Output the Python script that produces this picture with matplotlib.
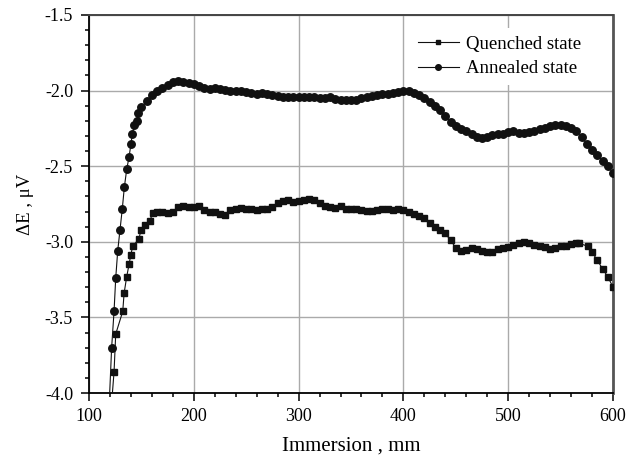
import matplotlib
matplotlib.use("Agg")
import matplotlib.pyplot as plt
from matplotlib.ticker import MultipleLocator

plt.rcParams['font.family'] = ['Liberation Serif', 'DejaVu Serif']

annealed_x = [118.5, 121.6, 123.9, 125.5, 127.4, 129.6, 131.8, 133.7, 136, 138.2, 140.1, 141.3,
              143.2, 145.5, 147,
              150, 155, 160, 165, 170, 175, 180, 185, 190, 195, 200, 205, 210, 215, 220, 225,
              230, 235, 240, 245, 250, 255, 260, 265, 270, 275, 280, 285, 290, 295, 300, 305,
              310, 315, 320, 325, 330, 335, 340, 345, 350, 355, 360, 365, 370, 375, 380, 385,
              390, 395, 400, 405, 410, 415, 420, 425, 430, 435, 440, 445, 450, 455, 460, 465,
              470, 475, 480, 485, 490, 495, 500, 505, 510, 515, 520, 525, 530, 535, 540, 545,
              550, 555, 560, 565, 570, 575, 580, 585, 590, 595, 600]
annealed_y = [-4.2, -3.70, -3.46, -3.24, -3.06, -2.92, -2.78, -2.64, -2.52, -2.44, -2.35, -2.29,
              -2.23, -2.20, -2.15,
              -2.11, -2.07, -2.03, -2.00, -1.98, -1.96, -1.945, -1.935, -1.94, -1.95, -1.955,
              -1.97, -1.985, -1.99, -1.985, -1.99, -1.995, -2.0, -2.005, -2.0, -2.01, -2.015,
              -2.02, -2.015, -2.025, -2.03, -2.035, -2.04, -2.045, -2.045, -2.04, -2.045,
              -2.045, -2.045, -2.05, -2.05, -2.045, -2.055, -2.065, -2.065, -2.06, -2.065,
              -2.05, -2.04, -2.035, -2.03, -2.02, -2.02, -2.015, -2.01, -2.0, -2.005, -2.015,
              -2.03, -2.05, -2.075, -2.1, -2.13, -2.17, -2.21, -2.235, -2.255, -2.27, -2.285,
              -2.305, -2.315, -2.31, -2.295, -2.29, -2.285, -2.275, -2.27, -2.28, -2.28,
              -2.275, -2.265, -2.255, -2.245, -2.235, -2.23, -2.23, -2.235, -2.245, -2.27,
              -2.31, -2.35, -2.39, -2.425, -2.465, -2.5, -2.545]

quenched_x = [119, 123.9, 125.5, 132.2, 133.5, 136, 138.2, 139.8, 141.7, 147.7, 149.6, 153,
              158, 161, 165, 170, 175, 180, 185, 190, 195, 200, 205, 210, 215, 220, 225, 230,
              235, 240, 245, 250, 255, 260, 265, 270, 275, 280, 285, 290, 295, 300, 305, 310,
              315, 320, 325, 330, 335, 340, 345, 350, 355, 360, 365, 370, 375, 380, 385, 390,
              395, 400, 405, 410, 415, 420, 425, 430, 435, 440, 445, 450, 455, 460, 465, 470,
              475, 480, 485, 490, 495, 500, 505, 510, 515, 520, 525, 530, 535, 540, 545, 550,
              555, 560, 565, 568, 576, 580, 585, 590, 595, 600]
quenched_y = [-4.3, -3.86, -3.61, -3.46, -3.34, -3.23, -3.15, -3.09, -3.03, -2.98, -2.92, -2.89,
              -2.86, -2.81, -2.80, -2.80, -2.81, -2.80, -2.77, -2.765, -2.77, -2.77, -2.765,
              -2.79, -2.80, -2.80, -2.815, -2.82, -2.79, -2.785, -2.775, -2.78, -2.785, -2.79,
              -2.785, -2.78, -2.77, -2.745, -2.73, -2.725, -2.735, -2.73, -2.725, -2.715,
              -2.725, -2.745, -2.765, -2.77, -2.775, -2.765, -2.78, -2.785, -2.785, -2.79,
              -2.795, -2.795, -2.79, -2.785, -2.785, -2.79, -2.785, -2.79, -2.80, -2.815,
              -2.83, -2.845, -2.875, -2.90, -2.92, -2.945, -2.99, -3.04, -3.06, -3.055, -3.04,
              -3.05, -3.06, -3.07, -3.065, -3.05, -3.04, -3.035, -3.02, -3.01, -3.0, -3.01,
              -3.02, -3.03, -3.035, -3.045, -3.04, -3.03, -3.025, -3.015, -3.01, -3.01,
              -3.03, -3.07, -3.12, -3.18, -3.23, -3.30]

fig = plt.figure(figsize=(6.27, 4.57), dpi=100)
ax = fig.add_axes([89 / 627, 64 / 457, 524 / 627, 378 / 457])

ax.plot(quenched_x, quenched_y, color='#111111', lw=0.8, marker='s', markersize=4.8,
        label='Quenched state', zorder=3)
ax.plot(annealed_x, annealed_y, color='#111111', lw=0.8, marker='o', markersize=5.4,
        label='Annealed state', zorder=3)

ax.set_xlim(100, 600)
ax.set_ylim(-4.0, -1.5)
ax.xaxis.set_major_locator(MultipleLocator(100))
ax.xaxis.set_minor_locator(MultipleLocator(20))
ax.yaxis.set_major_locator(MultipleLocator(0.5))
ax.yaxis.set_minor_locator(MultipleLocator(0.1))
ax.yaxis.set_major_formatter(matplotlib.ticker.FormatStrFormatter('%.1f'))
ax.tick_params(which='both', direction='out', top=False, right=False, labelsize=13)
ax.tick_params(axis='y', pad=5.5)
ax.tick_params(axis='x', pad=5)
ax.tick_params(which='major', length=6, width=1.1)
ax.tick_params(which='minor', length=3, width=1.1)
ax.grid(True, which='major', color='#aaaaaa', lw=1)
ax.set_axisbelow(True)
ax.spines['left'].set_linewidth(1.3)
ax.spines['bottom'].set_linewidth(1.3)
ax.spines['top'].set_linewidth(1.4)
ax.spines['top'].set_color('#444444')
ax.spines['right'].set_linewidth(2.0)
ax.spines['right'].set_color('#555555')

ax.set_xlabel('Immersion , mm', fontsize=15, labelpad=8)
ax.set_ylabel('ΔE , μV', fontsize=13.5, labelpad=8)

leg = ax.legend(loc='upper right', bbox_to_anchor=(0.972, 0.99), frameon=True, fontsize=13.5,
                handlelength=2.2, handletextpad=0.4, labelspacing=0.4, borderpad=0.4,
                markerscale=0.75)
leg.get_frame().set_edgecolor('none')
leg.get_frame().set_facecolor('white')
leg.get_frame().set_alpha(1)

fig.savefig('out.png', dpi=100)
